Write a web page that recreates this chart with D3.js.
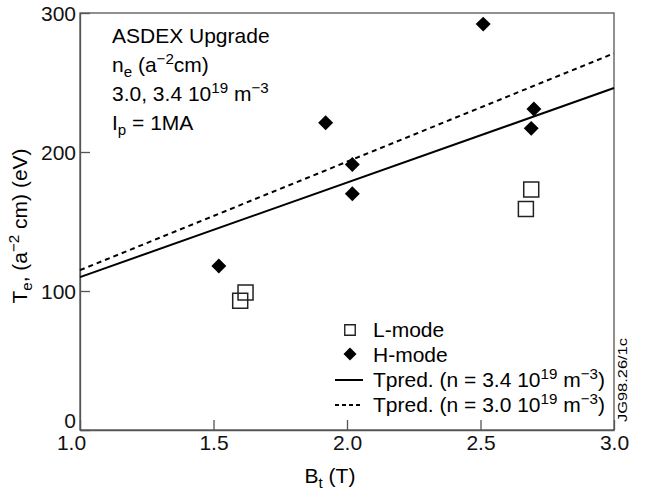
<!DOCTYPE html>
<html>
<head>
<meta charset="utf-8">
<script src="https://cdn.jsdelivr.net/npm/d3@7"></script>
<style>
  body { margin: 0; background: #fff; }
  svg { font-family: "Liberation Sans", Arial, sans-serif; }
  .axis path, .axis line { stroke: #555; stroke-width: 1.3; }
  .axis text { font-size: 21px; fill: #111; }
</style>
</head>
<body>
<svg id="chart" width="645" height="492"></svg>
<script>
// data
var lBt = [1.60, 1.62, 2.67, 2.69];
var lTe = [93, 99, 159, 173];
var hBt = [1.52, 1.92, 2.02, 2.02, 2.51, 2.69, 2.70];
var hTe = [118, 221, 191, 170, 292, 217, 231];
var predBt = [1.0, 3.0];
var pred34 = [110, 246];
var pred30 = [115, 271];
var xTicks = [1.0, 1.5, 2.0, 2.5, 3.0];
var yTicks = [0, 100, 200, 300];

var svg = d3.select("#chart"),
    margin = {top: 13, right: 31, bottom: 62, left: 80},
    width = +svg.attr("width") - margin.left - margin.right,
    height = +svg.attr("height") - margin.top - margin.bottom;

var x = d3.scaleLinear().domain([1.0, 3.0]).range([0, width]),
    y = d3.scaleLinear().domain([0, 300]).range([height, 0]);

var g = svg.append("g")
    .attr("transform", "translate(" + margin.left + "," + margin.top + ")");

// frame
g.append("rect")
    .attr("width", width)
    .attr("height", height)
    .attr("fill", "none")
    .attr("stroke", "#555")
    .attr("stroke-width", 1.3);

var xAxis = g.append("g")
    .attr("class", "axis")
    .attr("transform", "translate(0," + height + ")")
    .call(d3.axisBottom(x).tickValues(xTicks).tickFormat(d3.format(".1f"))
      .tickSizeInner(-10).tickSizeOuter(0).tickPadding(5));
xAxis.selectAll(".tick text")
    .attr("dx", function(d) { return d == 1.0 ? -9 : 0; });

var yAxis = g.append("g")
    .attr("class", "axis")
    .call(d3.axisLeft(y).tickValues(yTicks)
      .tickSizeInner(-10).tickSizeOuter(0).tickPadding(4));
yAxis.selectAll(".tick text")
    .attr("dy", function(d) { return d == 0 ? "-0.12em" : "0.36em"; });

// rich text helper: parts are [string, "n"|"sub"|"sup"]
function rich(sel, parts, size) {
  var prev = "n";
  parts.forEach(function(p) {
    var t = sel.append("tspan").text(p[0]);
    var shift = 0;
    if (p[1] == "sub") shift = 0.25 * size;
    if (p[1] == "sup") shift = -0.38 * size;
    var back = prev == "sub" ? -0.25 * size : prev == "sup" ? 0.38 * size : 0;
    t.attr("dy", back + shift);
    if (p[1] != "n") t.attr("font-size", size * 0.72);
    prev = p[1];
  });
}

// axis titles
svg.append("text")
    .attr("x", 330)
    .attr("y", 483)
    .attr("text-anchor", "middle")
    .attr("font-size", 21)
    .call(rich, [["B", "n"], ["t", "sub"], [" (T)", "n"]], 21);

svg.append("text")
    .attr("transform", "translate(27,226) rotate(-90)")
    .attr("text-anchor", "middle")
    .attr("font-size", 21)
    .call(rich, [["T", "n"], ["e", "sub"], [", (a", "n"], ["\u22122", "sup"], [" cm) (eV)", "n"]], 21);

// annotation
var notes = [
  [["ASDEX Upgrade", "n"]],
  [["n", "n"], ["e", "sub"], [" (a", "n"], ["\u22122", "sup"], ["cm)", "n"]],
  [["3.0, 3.4 10", "n"], ["19", "sup"], [" m", "n"], ["\u22123", "sup"]],
  [["I", "n"], ["p", "sub"], [" = 1MA", "n"]]
];
notes.forEach(function(parts, i) {
  svg.append("text")
      .attr("x", 112)
      .attr("y", 43 + i * 29)
      .attr("font-size", 21)
      .call(rich, parts, 21);
});

// prediction lines
var line = d3.line()
    .x(function(d) { return x(d[0]); })
    .y(function(d) { return y(d[1]); });

g.append("path")
    .datum(d3.zip(predBt, pred34))
    .attr("d", line)
    .attr("fill", "none")
    .attr("stroke", "#000")
    .attr("stroke-width", 2);

g.append("path")
    .datum(d3.zip(predBt, pred30))
    .attr("d", line)
    .attr("fill", "none")
    .attr("stroke", "#000")
    .attr("stroke-width", 2)
    .attr("stroke-dasharray", "5,4");

// markers
var sq = d3.symbol().type(d3.symbolSquare).size(225);
var dia = d3.symbol().type(d3.symbolSquare).size(112);

g.selectAll(".lmode")
    .data(d3.zip(lBt, lTe))
    .enter().append("path")
      .attr("class", "lmode")
      .attr("d", sq)
      .attr("transform", function(d) { return "translate(" + x(d[0]) + "," + y(d[1]) + ")"; })
      .attr("fill", "none")
      .attr("stroke", "#222")
      .attr("stroke-width", 1.5);

g.selectAll(".hmode")
    .data(d3.zip(hBt, hTe))
    .enter().append("path")
      .attr("class", "hmode")
      .attr("d", dia)
      .attr("transform", function(d) { return "translate(" + x(d[0]) + "," + y(d[1]) + ") rotate(45)"; })
      .attr("fill", "#000");

// legend
var leg = svg.append("g");
leg.append("path")
    .attr("d", d3.symbol().type(d3.symbolSquare).size(110))
    .attr("transform", "translate(350,330)")
    .attr("fill", "none")
    .attr("stroke", "#222")
    .attr("stroke-width", 1.4);
leg.append("path")
    .attr("d", d3.symbol().type(d3.symbolSquare).size(85))
    .attr("transform", "translate(350,354) rotate(45)")
    .attr("fill", "#000");
leg.append("line")
    .attr("x1", 335).attr("x2", 363).attr("y1", 380).attr("y2", 380)
    .attr("stroke", "#000").attr("stroke-width", 2);
leg.append("line")
    .attr("x1", 335).attr("x2", 363).attr("y1", 405).attr("y2", 405)
    .attr("stroke", "#000").attr("stroke-width", 2)
    .attr("stroke-dasharray", "4,3");

var legText = [
  [["L-mode", "n"]],
  [["H-mode", "n"]],
  [["Tpred. (n = 3.4 10", "n"], ["19", "sup"], [" m", "n"], ["\u22123", "sup"], [")", "n"]],
  [["Tpred. (n = 3.0 10", "n"], ["19", "sup"], [" m", "n"], ["\u22123", "sup"], [")", "n"]]
];
legText.forEach(function(parts, i) {
  leg.append("text")
      .attr("x", 373)
      .attr("y", 337 + i * 25)
      .attr("font-size", 21)
      .call(rich, parts, 21);
});

// figure id
svg.append("text")
    .attr("transform", "translate(627,422) rotate(-90)")
    .attr("font-size", 12)
    .attr("textLength", 84)
    .attr("lengthAdjust", "spacingAndGlyphs")
    .text("JG98.26/1c");
</script>
</body>
</html>
